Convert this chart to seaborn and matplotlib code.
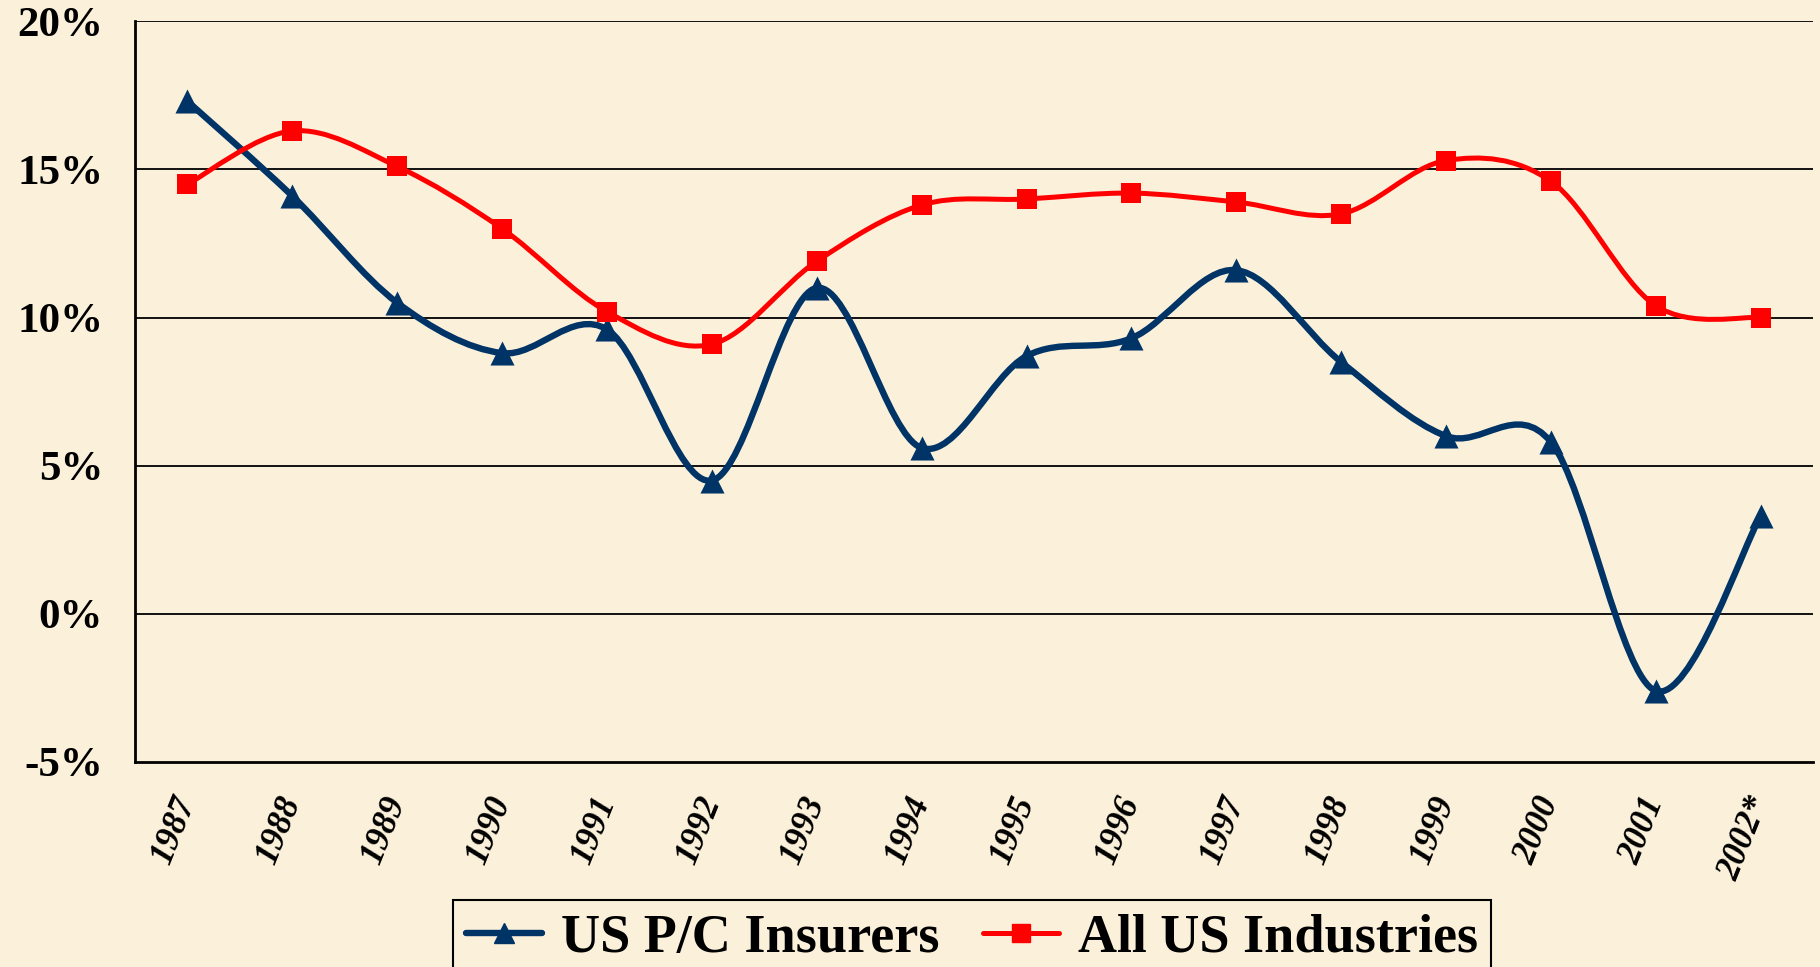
import numpy as np
import pandas as pd
import matplotlib
matplotlib.use("Agg")
import matplotlib.pyplot as plt
import seaborn as sns
from matplotlib.path import Path
from matplotlib.patches import PathPatch
from matplotlib.lines import Line2D
from matplotlib.ticker import FixedLocator, FuncFormatter

# ---- data ----
years = ["1987", "1988", "1989", "1990", "1991", "1992", "1993", "1994",
         "1995", "1996", "1997", "1998", "1999", "2000", "2001", "2002*"]
pc_insurers = [17.3, 14.1, 10.5, 8.8, 9.6, 4.5, 11.0, 5.6,
               8.7, 9.3, 11.6, 8.5, 6.0, 5.8, -2.6, 3.3]
all_industries = [14.5, 16.3, 15.1, 13.0, 10.2, 9.1, 11.9, 13.8,
                  14.0, 14.2, 13.9, 13.5, 15.3, 14.6, 10.4, 10.0]
series_names = ["US P/C Insurers", "All US Industries"]
y_ticks = [-5, 0, 5, 10, 15, 20]

navy = "#003366"
red = "#FF0000"
bg = "#FBF1DA"

sns.set_theme(style="white")
plt.rcParams["font.family"] = ["Liberation Serif", "DejaVu Serif"]
plt.rcParams["text.color"] = "black"
plt.rcParams["xtick.color"] = "black"
plt.rcParams["ytick.color"] = "black"
plt.rcParams["xtick.labelcolor"] = "black"
plt.rcParams["ytick.labelcolor"] = "black"

fig = plt.figure(figsize=(18.2, 9.67), dpi=100, facecolor=bg)
ax = fig.add_axes([0.0742, 0.212, 0.9220, 0.766])
ax.set_facecolor(bg)

x = np.arange(len(years))
df = pd.DataFrame({
    "pos": np.concatenate([x, x]),
    "value": pc_insurers + all_industries,
    "series": [series_names[0]] * len(years) + [series_names[1]] * len(years),
})


def smooth_path(xs, ys):
    pts = np.column_stack([xs, ys]).astype(float)
    n = len(pts)
    verts = [pts[0]]
    codes = [Path.MOVETO]
    for i in range(n - 1):
        p0 = pts[i - 1] if i > 0 else pts[i]
        p1 = pts[i]
        p2 = pts[i + 1]
        p3 = pts[i + 2] if i + 2 < n else pts[i + 1]
        c1 = p1 + (p2 - p0) / 6.0
        c2 = p2 - (p3 - p1) / 6.0
        verts += [c1, c2, p2]
        codes += [Path.CURVE4] * 3
    return Path(verts, codes)


styles = {
    series_names[0]: dict(color=navy, lw=4.6, marker="^", s=300),
    series_names[1]: dict(color=red, lw=3.6, marker="s", s=210),
}

for name in series_names:
    sub = df[df["series"] == name]
    st = styles[name]
    ax.add_patch(PathPatch(smooth_path(sub["pos"].values, sub["value"].values),
                           fill=False, edgecolor=st["color"], lw=st["lw"],
                           capstyle="round", joinstyle="round", zorder=3))

for name in series_names:
    sub = df[df["series"] == name]
    st = styles[name]
    sns.scatterplot(data=sub, x="pos", y="value", ax=ax, marker=st["marker"],
                    s=st["s"], color=st["color"], edgecolor=st["color"],
                    linewidth=0, zorder=4, legend=False)

ax.set_xlim(-0.5, len(years) - 0.5)
ax.set_ylim(-5, 20)
ax.set_xlabel("")
ax.set_ylabel("")

# grid lines
for v in y_ticks[1:]:
    ax.axhline(v, color="black", lw=1.3, zorder=1)

ax.yaxis.set_major_locator(FixedLocator(y_ticks))
ax.yaxis.set_major_formatter(FuncFormatter(lambda v, p: f"{int(v)}%"))
ax.tick_params(axis="y", which="major", direction="in", length=11, width=1.5,
               color="black", pad=23, labelsize=31, labelcolor="black")
for lab in ax.get_yticklabels():
    lab.set_fontweight("bold")

ax.set_xticks(x)
ax.set_xticklabels(years)
ax.set_xticks(np.arange(len(years) + 1) - 0.5, minor=True)
ax.tick_params(axis="x", which="major", length=0, pad=26, labelsize=25,
               labelcolor="black")
ax.tick_params(axis="x", which="minor", direction="in", length=10, width=1.5,
               color="black")
for lab in ax.get_xticklabels():
    lab.set_fontweight("bold")
    lab.set_fontstyle("italic")
    lab.set_rotation(68)
    lab.set_ha("right")
    lab.set_va("center")
    lab.set_rotation_mode("anchor")

for side in ["top", "right"]:
    ax.spines[side].set_visible(False)
for side in ["left", "bottom"]:
    ax.spines[side].set_visible(True)
    ax.spines[side].set_color("black")
    ax.spines[side].set_linewidth(2)

handles = [
    Line2D([], [], color=navy, lw=4.6, marker="^", markersize=14),
    Line2D([], [], color=red, lw=3.6, marker="s", markersize=13),
]
leg = fig.legend(handles, series_names, loc="upper center",
                 bbox_to_anchor=(0.534, 0.069), bbox_transform=fig.transFigure,
                 borderaxespad=0.0,
                 ncol=2, frameon=True, fancybox=False, edgecolor="black",
                 facecolor=bg, framealpha=1, handlelength=1.4,
                 handletextpad=0.35, columnspacing=0.8, borderpad=0.25,
                 prop={"family": "Liberation Serif", "weight": "bold", "size": 39})
leg.get_frame().set_linewidth(1.5)

fig.savefig("out.png", dpi=100, facecolor=bg)
